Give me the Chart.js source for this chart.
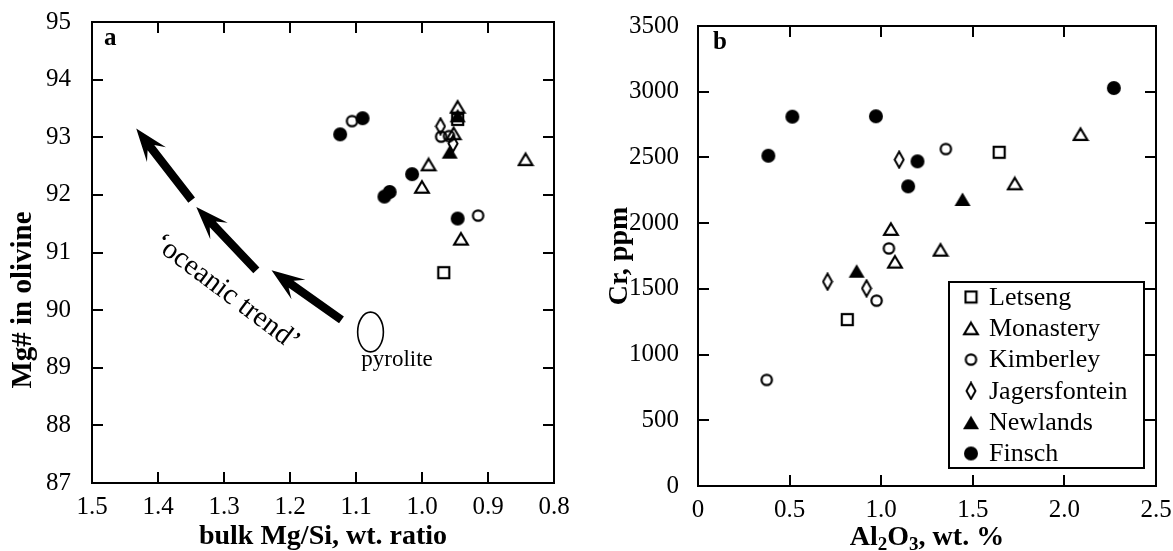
<!DOCTYPE html>
<html>
<head>
<meta charset="utf-8">
<script src="https://cdn.jsdelivr.net/npm/chart.js@4.4.1/dist/chart.umd.min.js"></script>
<style>
  body { margin: 0; background: #fff; }
  #wrap { position: relative; width: 1173px; height: 551px; }
  canvas { position: absolute; top: 0; }
</style>
</head>
<body>
<div id="wrap">
  <canvas id="chartA" width="590" height="551" style="left:0"></canvas>
  <canvas id="chartB" width="583" height="551" style="left:590px"></canvas>
</div>
<script>
const localities = ['Letseng', 'Monastery', 'Kimberley', 'Jagersfontein', 'Newlands', 'Finsch'];

// panel a: bulk Mg/Si (x) vs Mg# in olivine (y)
const aLetseng = [[0.967, 90.65], [0.946, 93.31]];
const aMonastery = [[0.946, 93.53], [0.952, 93.07], [0.990, 92.53], [1.000, 92.14], [0.941, 91.24], [0.843, 92.62]];
const aKimberley = [[1.106, 93.28], [0.971, 93.01], [0.959, 93.02], [0.915, 91.64]];
const aJagersfontein = [[0.972, 93.19], [0.953, 92.89]];
const aNewlands = [[0.946, 93.38], [0.958, 92.75]];
const aFinsch = [[1.124, 93.05], [1.090, 93.33], [1.057, 91.97], [1.049, 92.05], [1.015, 92.36], [0.946, 91.59]];

// panel b: Al2O3 wt.% (x) vs Cr ppm (y)
const bLetseng = [[0.815, 1266], [1.644, 2539]];
const bMonastery = [[1.053, 1956], [1.075, 1707], [1.324, 1798], [2.088, 2678], [1.729, 2303]];
const bKimberley = [[0.375, 807], [0.975, 1410], [1.042, 1808], [1.353, 2564]];
const bJagersfontein = [[0.707, 1555], [0.920, 1504], [1.098, 2483]];
const bNewlands = [[0.866, 1638], [1.444, 2184]];
const bFinsch = [[0.384, 2513], [0.515, 2810], [0.971, 2813], [1.147, 2280], [1.198, 2470], [2.270, 3028]];

const aXTicks = [1.5, 1.4, 1.3, 1.2, 1.1, 1.0, 0.9, 0.8];
const aYTicks = [87, 88, 89, 90, 91, 92, 93, 94, 95];
const bXTicks = [0, 0.5, 1.0, 1.5, 2.0, 2.5];
const bYTicks = [0, 500, 1000, 1500, 2000, 2500, 3000, 3500];

// annotations of panel a, in data units
const trendArrows = [
  [[1.122, 89.83], [1.228, 90.69]],
  [[1.251, 90.69], [1.342, 91.79]],
  [[1.349, 91.91], [1.433, 93.15]]
];
const pyroliteCentre = [1.078, 89.62];
const pyroliteHalf = [0.0195, 0.345];
const pyroliteLabelAt = [1.092, 89.13];
const trendLabelAt = [1.296, 90.30];

const SERIF = "'Liberation Serif', 'Times New Roman', serif";

// marker images
function makeMarker(w, h, draw) {
  const c = document.createElement('canvas');
  c.width = w; c.height = h;
  const g = c.getContext('2d');
  g.strokeStyle = '#000'; g.fillStyle = '#000';
  g.lineWidth = 2.2; g.lineJoin = 'miter';
  draw(g);
  return c;
}
const markers = {
  Letseng: makeMarker(15, 15, g => { g.strokeRect(2, 2, 11, 11); }),
  Monastery: makeMarker(18, 16, g => {
    g.beginPath(); g.moveTo(9, 2.5); g.lineTo(15.8, 13.8); g.lineTo(2.2, 13.8); g.closePath(); g.stroke();
  }),
  Kimberley: makeMarker(15, 15, g => { g.beginPath(); g.arc(7.5, 7.5, 5.2, 0, Math.PI * 2); g.stroke(); }),
  Jagersfontein: makeMarker(12, 19, g => {
    g.lineWidth = 2;
    g.beginPath(); g.moveTo(6, 1.5); g.lineTo(10.5, 9.5); g.lineTo(6, 17.5); g.lineTo(1.5, 9.5); g.closePath(); g.stroke();
  }),
  Newlands: makeMarker(18, 16, g => {
    g.beginPath(); g.moveTo(9, 1.5); g.lineTo(17, 15); g.lineTo(1, 15); g.closePath(); g.fill();
  }),
  Finsch: makeMarker(16, 16, g => { g.beginPath(); g.arc(8, 8, 7, 0, Math.PI * 2); g.fill(); })
};

function toPoints(arr) { return arr.map(p => ({ x: p[0], y: p[1] })); }

function buildDatasets(series) {
  return localities.map((name, i) => ({
    label: name,
    data: toPoints(series[i]),
    pointStyle: markers[name],
    pointRadius: 7,
    order: name === 'Finsch' ? 0 : 6 - i
  }));
}

const frameTicks = {
  id: 'frameTicks',
  afterDraw(chart) {
    const { ctx, chartArea: { left, right, top, bottom }, scales: { x, y } } = chart;
    ctx.save();
    ctx.strokeStyle = '#000';
    ctx.lineWidth = 2;
    ctx.strokeRect(left, top, right - left, bottom - top);
    const len = 11;
    ctx.beginPath();
    x.ticks.forEach(t => {
      const px = Math.round(x.getPixelForValue(t.value));
      if (px <= left + 2 || px >= right - 2) return;
      ctx.moveTo(px, bottom); ctx.lineTo(px, bottom - len);
      ctx.moveTo(px, top); ctx.lineTo(px, top + len);
    });
    y.ticks.forEach(t => {
      const py = Math.round(y.getPixelForValue(t.value));
      if (py <= top + 2 || py >= bottom - 2) return;
      ctx.moveTo(left, py); ctx.lineTo(left + len, py);
      ctx.moveTo(right, py); ctx.lineTo(right - len, py);
    });
    ctx.stroke();
    ctx.restore();
  }
};

function drawArrow(ctx, x0, y0, x1, y1) {
  const L = Math.hypot(x1 - x0, y1 - y0);
  const ang = Math.atan2(y1 - y0, x1 - x0);
  ctx.save();
  ctx.translate(x0, y0);
  ctx.rotate(ang);
  ctx.beginPath();
  ctx.moveTo(0, -4.2);
  ctx.lineTo(L - 24, -4.2);
  ctx.lineTo(L - 33, -12);
  ctx.lineTo(L, 0);
  ctx.lineTo(L - 33, 12);
  ctx.lineTo(L - 24, 4.2);
  ctx.lineTo(0, 4.2);
  ctx.closePath();
  ctx.fillStyle = '#000';
  ctx.fill();
  ctx.restore();
}

const panelANotes = {
  id: 'panelANotes',
  afterDatasetsDraw(chart) {
    const { ctx, chartArea, scales: { x, y } } = chart;
    ctx.save();
    trendArrows.forEach(([a, b]) => {
      drawArrow(ctx, x.getPixelForValue(a[0]), y.getPixelForValue(a[1]),
                x.getPixelForValue(b[0]), y.getPixelForValue(b[1]));
    });
    // pyrolite ellipse
    const cx = x.getPixelForValue(pyroliteCentre[0]);
    const cy = y.getPixelForValue(pyroliteCentre[1]);
    const rx = Math.abs(x.getPixelForValue(pyroliteCentre[0] + pyroliteHalf[0]) - cx);
    const ry = Math.abs(y.getPixelForValue(pyroliteCentre[1] + pyroliteHalf[1]) - cy);
    ctx.beginPath();
    ctx.ellipse(cx, cy, rx, ry, 0, 0, Math.PI * 2);
    ctx.lineWidth = 1.6;
    ctx.strokeStyle = '#000';
    ctx.stroke();
    ctx.fillStyle = '#000';
    ctx.font = '23px ' + SERIF;
    ctx.textAlign = 'left';
    ctx.textBaseline = 'middle';
    ctx.fillText('pyrolite', x.getPixelForValue(pyroliteLabelAt[0]), y.getPixelForValue(pyroliteLabelAt[1]));
    // oceanic trend label
    ctx.save();
    ctx.translate(x.getPixelForValue(trendLabelAt[0]), y.getPixelForValue(trendLabelAt[1]));
    ctx.rotate(37 * Math.PI / 180);
    ctx.font = '29px ' + SERIF;
    ctx.textAlign = 'center';
    ctx.fillText('\u2018oceanic trend\u2019', 0, 0);
    ctx.restore();
    // panel letter
    ctx.font = 'bold 25px ' + SERIF;
    ctx.textBaseline = 'alphabetic';
    ctx.fillText('a', chartArea.left + 12, chartArea.top + 23);
    ctx.restore();
  },
  afterDraw(chart) {
    // y title, sits lower than the axis centre in the original
    const { ctx } = chart;
    ctx.save();
    ctx.translate(24, 300);
    ctx.rotate(-Math.PI / 2);
    ctx.font = 'bold 29px ' + SERIF;
    ctx.fillStyle = '#000';
    ctx.textAlign = 'center';
    ctx.textBaseline = 'middle';
    ctx.fillText('Mg# in olivine', 0, 0);
    ctx.restore();
  }
};

const panelBNotes = {
  id: 'panelBNotes',
  afterDraw(chart) {
    const { ctx, chartArea } = chart;
    ctx.save();
    ctx.fillStyle = '#000';
    ctx.font = 'bold 25px ' + SERIF;
    ctx.textBaseline = 'alphabetic';
    ctx.fillText('b', chartArea.left + 15, chartArea.top + 23);

    // legend box
    const bx = 359, by = 282, bw = 195, bh = 186;
    ctx.lineWidth = 2;
    ctx.strokeStyle = '#000';
    ctx.fillStyle = '#fff';
    ctx.fillRect(bx, by, bw, bh);
    ctx.strokeRect(bx, by, bw, bh);
    ctx.fillStyle = '#000';
    ctx.font = '26px ' + SERIF;
    ctx.textAlign = 'left';
    ctx.textBaseline = 'middle';
    chart.data.datasets.forEach((ds, i) => {
      const ry = by + 15 + i * 31.3;
      const img = ds.pointStyle;
      ctx.drawImage(img, bx + 22 - img.width / 2, ry - img.height / 2);
      ctx.fillText(ds.label, bx + 40, ry + 1);
    });

    // x title with subscripts
    const parts = [['Al', 0], ['2', 1], ['O', 0], ['3', 1], [', wt. %', 0]];
    const big = 'bold 28px ' + SERIF, small = 'bold 19px ' + SERIF;
    let total = 0;
    parts.forEach(([t, sub]) => { ctx.font = sub ? small : big; total += ctx.measureText(t).width; });
    let tx = (chartArea.left + chartArea.right) / 2 - total / 2;
    const ty = 538;
    parts.forEach(([t, sub]) => {
      ctx.font = sub ? small : big;
      ctx.fillText(t, tx, sub ? ty + 7 : ty);
      tx += ctx.measureText(t).width;
    });
    ctx.restore();
  }
};

function scaleOpts(ticks, fmt, pad, opts) {
  return Object.assign({
    type: 'linear',
    min: Math.min(...ticks),
    max: Math.max(...ticks),
    afterBuildTicks: s => { s.ticks = ticks.map(v => ({ value: v })); },
    grid: { display: false, drawTicks: false },
    border: { display: false },
    ticks: {
      color: '#000',
      padding: pad,
      font: { family: SERIF, size: 25 },
      callback: fmt
    }
  }, opts);
}

// fixed axis boxes so the plot frames land where the original has them
function fixX(h) { return s => { s.height = h; s.paddingLeft = 0; s.paddingRight = 0; }; }
function fixY(w) { return s => { s.width = w; s.paddingTop = 0; s.paddingBottom = 0; }; }

const common = {
  responsive: false,
  animation: false,
  devicePixelRatio: 1,
  plugins: { legend: { display: false }, tooltip: { enabled: false } }
};

new Chart(document.getElementById('chartA'), {
  type: 'scatter',
  data: { datasets: buildDatasets([aLetseng, aMonastery, aKimberley, aJagersfontein, aNewlands, aFinsch]) },
  options: Object.assign({}, common, {
    layout: { padding: { left: 0, top: 22, right: 36, bottom: 0 } },
    scales: {
      x: scaleOpts(aXTicks, v => v.toFixed(1), 9, {
        reverse: true,
        afterFit: fixX(68),
        title: { display: true, text: 'bulk Mg/Si, wt. ratio', color: '#000',
                 font: { family: SERIF, size: 28, weight: 'bold', lineHeight: 1 }, padding: { top: 0, bottom: 0 } }
      }),
      y: scaleOpts(aYTicks, v => String(v), 21, {
        afterFit: fixY(92),
        title: { display: false }
      })
    }
  }),
  plugins: [frameTicks, panelANotes]
});

new Chart(document.getElementById('chartB'), {
  type: 'scatter',
  data: { datasets: buildDatasets([bLetseng, bMonastery, bKimberley, bJagersfontein, bNewlands, bFinsch]) },
  options: Object.assign({}, common, {
    layout: { padding: { left: 0, top: 26, right: 17, bottom: 0 } },
    scales: {
      x: scaleOpts(bXTicks, v => (v === 0 ? '0' : v.toFixed(1)), 9, {
        afterFit: fixX(65),
        title: { display: false }
      }),
      y: scaleOpts(bYTicks, v => String(v), 19, {
        afterFit: fixY(108),
        title: { display: true, text: 'Cr, ppm', color: '#000',
                 font: { family: SERIF, size: 28, weight: 'bold', lineHeight: 1 }, padding: { top: 16, bottom: 0 } }
      })
    }
  }),
  plugins: [frameTicks, panelBNotes]
});
</script>
</body>
</html>
